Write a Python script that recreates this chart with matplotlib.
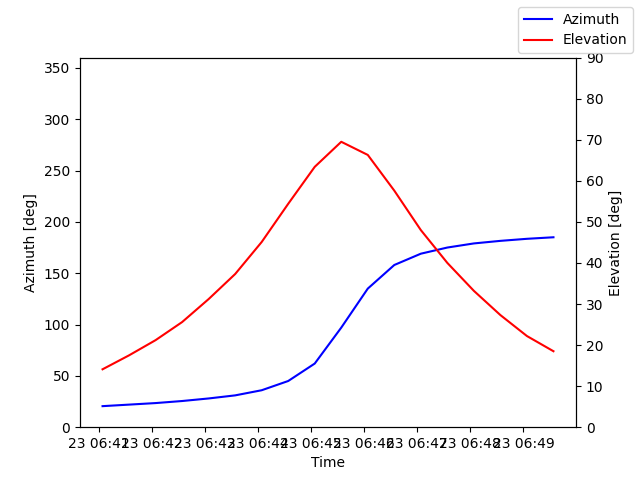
import numpy as np
import pandas as pd
import matplotlib
matplotlib.use("Agg")
import matplotlib.pyplot as plt
import matplotlib.dates as mdates

times = pd.date_range("2024-01-23 06:41:04", periods=18, freq="30s")
azimuth = [20.5, 22, 23.5, 25.5, 28, 31, 36, 45, 62, 97, 135, 158, 169, 175, 179, 181.5, 183.5, 185]
elevation = [14.1, 17.5, 21.2, 25.6, 31.2, 37.3, 45.1, 54.4, 63.4, 69.5, 66.3, 57.6, 48.0, 40.0, 33.2, 27.3, 22.2, 18.5]

fig, ax = plt.subplots(figsize=(6.4, 4.8), dpi=100)
ax.plot(times, azimuth, color="blue", label="Azimuth")
ax.set_ylim(0, 360)
ax.set_ylabel("Azimuth [deg]")
ax.set_xlabel("Time")
ax.xaxis.set_major_locator(mdates.MinuteLocator())
ax.xaxis.set_major_formatter(mdates.DateFormatter("%d %H:%M"))

ax2 = ax.twinx()
ax2.plot(times, elevation, color="red", label="Elevation")
ax2.set_ylim(0, 90)
ax2.set_ylabel("Elevation [deg]")

fig.legend(loc="upper right")
fig.savefig("out.png")
